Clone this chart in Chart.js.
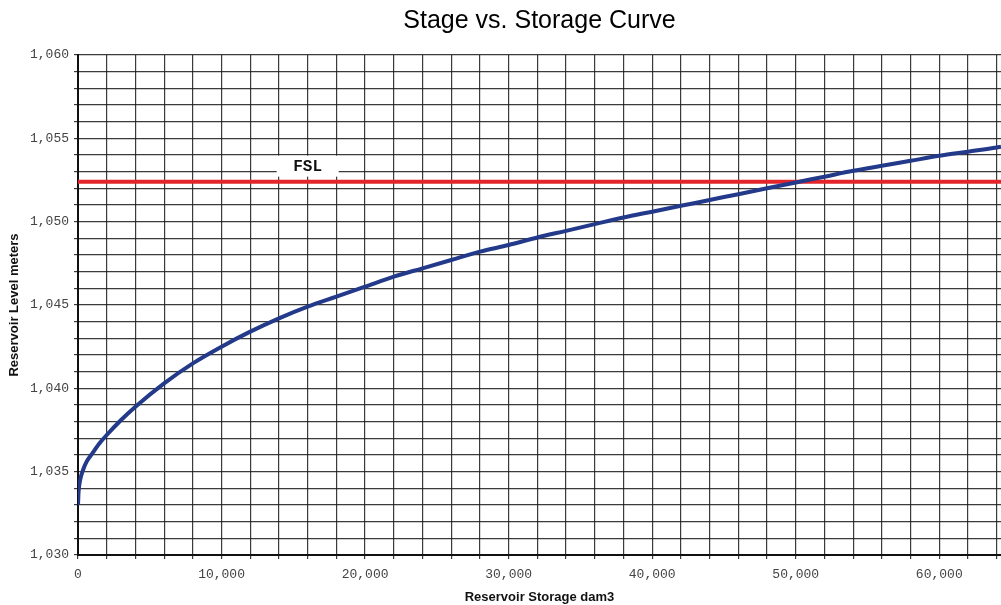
<!DOCTYPE html>
<html>
<head>
<meta charset="utf-8">
<script src="https://cdn.jsdelivr.net/npm/chart.js@4"></script>
<style>
  html, body { margin: 0; padding: 0; background: #fff; }
  #wrap { width: 1001px; height: 605px; }
</style>
</head>
<body>
<div id="wrap"><canvas id="c" width="1001" height="605"></canvas></div>
<script>
// ---- data ----
const chartTitle = "Stage vs. Storage Curve";
const xAxisTitle = "Reservoir Storage dam3";
const yAxisTitle = "Reservoir Level meters";

const storage = [0, 40, 150, 350, 600, 1000, 1500, 2000, 3000, 4000, 6000, 8000, 10000, 12000, 14000,
  16000, 18000, 20000, 22000, 24000, 26000, 28000, 30000, 32000, 34000, 36000, 38000, 40000, 42000,
  44000, 46000, 48000, 50000, 52000, 54000, 56000, 58000, 60000, 62000, 64000, 64300];
const level = [1033.0, 1033.8, 1034.5, 1035.1, 1035.6, 1036.1, 1036.7, 1037.2, 1038.1, 1038.9, 1040.3,
  1041.5, 1042.5, 1043.4, 1044.2, 1044.9, 1045.5, 1046.1, 1046.7, 1047.2, 1047.7, 1048.2, 1048.6,
  1049.05, 1049.45, 1049.85, 1050.25, 1050.6, 1050.95, 1051.3, 1051.65, 1052.0, 1052.35, 1052.7,
  1053.05, 1053.35, 1053.65, 1053.95, 1054.2, 1054.45, 1054.5];

const fslLabel = "FSL";
const fslLevel = 1052.4;
const fslStorage = [0, 64300];

const xMin = 0, xMax = 64300, xGridStep = 2000, xLabelStep = 10000;
const yMin = 1030, yMax = 1060, yGridStep = 1, yLabelStep = 5;

// ---- build datasets ----
const curvePoints = storage.map((s, i) => ({ x: s, y: level[i] }));
const fslPoints = fslStorage.map(s => ({ x: s, y: fslLevel }));

const fmt = v => Math.round(v).toLocaleString('en-US');

// FSL text label with white background
const fslLabelPlugin = {
  id: 'fslLabel',
  beforeDatasetsDraw(chart) {
    const { ctx, scales } = chart;
    const cx = scales.x.getPixelForValue(16000);
    const cy = scales.y.getPixelForValue(1053.3);
    ctx.save();
    ctx.fillStyle = '#ffffff';
    ctx.fillRect(cx - 31, cy - 11, 62, 21);
    ctx.font = 'bold 16px "Liberation Mono", "DejaVu Sans Mono", monospace';
    ctx.fillStyle = '#111';
    ctx.textAlign = 'center';
    ctx.textBaseline = 'middle';
    ctx.fillText(fslLabel, cx, cy);
    ctx.restore();
  }
};

new Chart(document.getElementById('c'), {
  type: 'line',
  data: {
    datasets: [
      {
        label: 'Stage-Storage',
        data: curvePoints,
        borderColor: '#23398a',
        borderWidth: 4,
        pointRadius: 0,
        cubicInterpolationMode: 'monotone',
        fill: false,
        order: 0
      },
      {
        label: fslLabel,
        data: fslPoints,
        borderColor: '#e3242b',
        borderWidth: 4,
        pointRadius: 0,
        fill: false,
        order: 1
      }
    ]
  },
  options: {
    responsive: false,
    animation: false,
    devicePixelRatio: 1,
    layout: { padding: 0, autoPadding: false },
    plugins: {
      legend: { display: false },
      tooltip: { enabled: false },
      title: {
        display: true,
        text: chartTitle,
        fullSize: false,
        color: '#000',
        font: { family: '"Liberation Sans", Arial, sans-serif', size: 25, weight: 'normal' },
        padding: { top: 6, bottom: 19 }
      }
    },
    scales: {
      x: {
        type: 'linear',
        min: xMin,
        max: xMax,
        afterBuildTicks(scale) {
          const t = [];
          for (let v = xMin; v <= xMax; v += xGridStep) t.push({ value: v });
          scale.ticks = t;
        },
        afterFit(scale) { scale.height = 50; scale.paddingRight = 0; },
        ticks: {
          autoSkip: false,
          maxRotation: 0,
          padding: 8,
          color: '#444',
          font: { family: '"Liberation Mono", "DejaVu Sans Mono", monospace', size: 13 },
          callback: v => (v % xLabelStep === 0 ? fmt(v) : '')
        },
        grid: {
          color: 'rgba(25,25,25,0.85)',
          lineWidth: 1.2,
          tickLength: 4
        },
        border: { color: '#111', width: 2 },
        title: {
          display: true,
          text: xAxisTitle,
          color: '#111',
          font: { family: '"Liberation Sans", Arial, sans-serif', size: 13, weight: 'bold' },
          padding: { top: 5, bottom: 0 }
        }
      },
      y: {
        type: 'linear',
        min: yMin,
        max: yMax,
        afterBuildTicks(scale) {
          const t = [];
          for (let v = yMin; v <= yMax; v += yGridStep) t.push({ value: v });
          scale.ticks = t;
        },
        afterFit(scale) { scale.width = 78; },
        ticks: {
          autoSkip: false,
          padding: 5,
          color: '#444',
          font: { family: '"Liberation Mono", "DejaVu Sans Mono", monospace', size: 13 },
          callback: v => (v % yLabelStep === 0 ? fmt(v) : '')
        },
        grid: {
          color: 'rgba(25,25,25,0.85)',
          lineWidth: 1.2,
          tickLength: 4
        },
        border: { color: '#111', width: 2 },
        title: {
          display: true,
          text: yAxisTitle,
          color: '#111',
          font: { family: '"Liberation Sans", Arial, sans-serif', size: 13, weight: 'bold' },
          padding: { top: 7, bottom: 0 }
        }
      }
    }
  },
  plugins: [fslLabelPlugin]
});
</script>
</body>
</html>
